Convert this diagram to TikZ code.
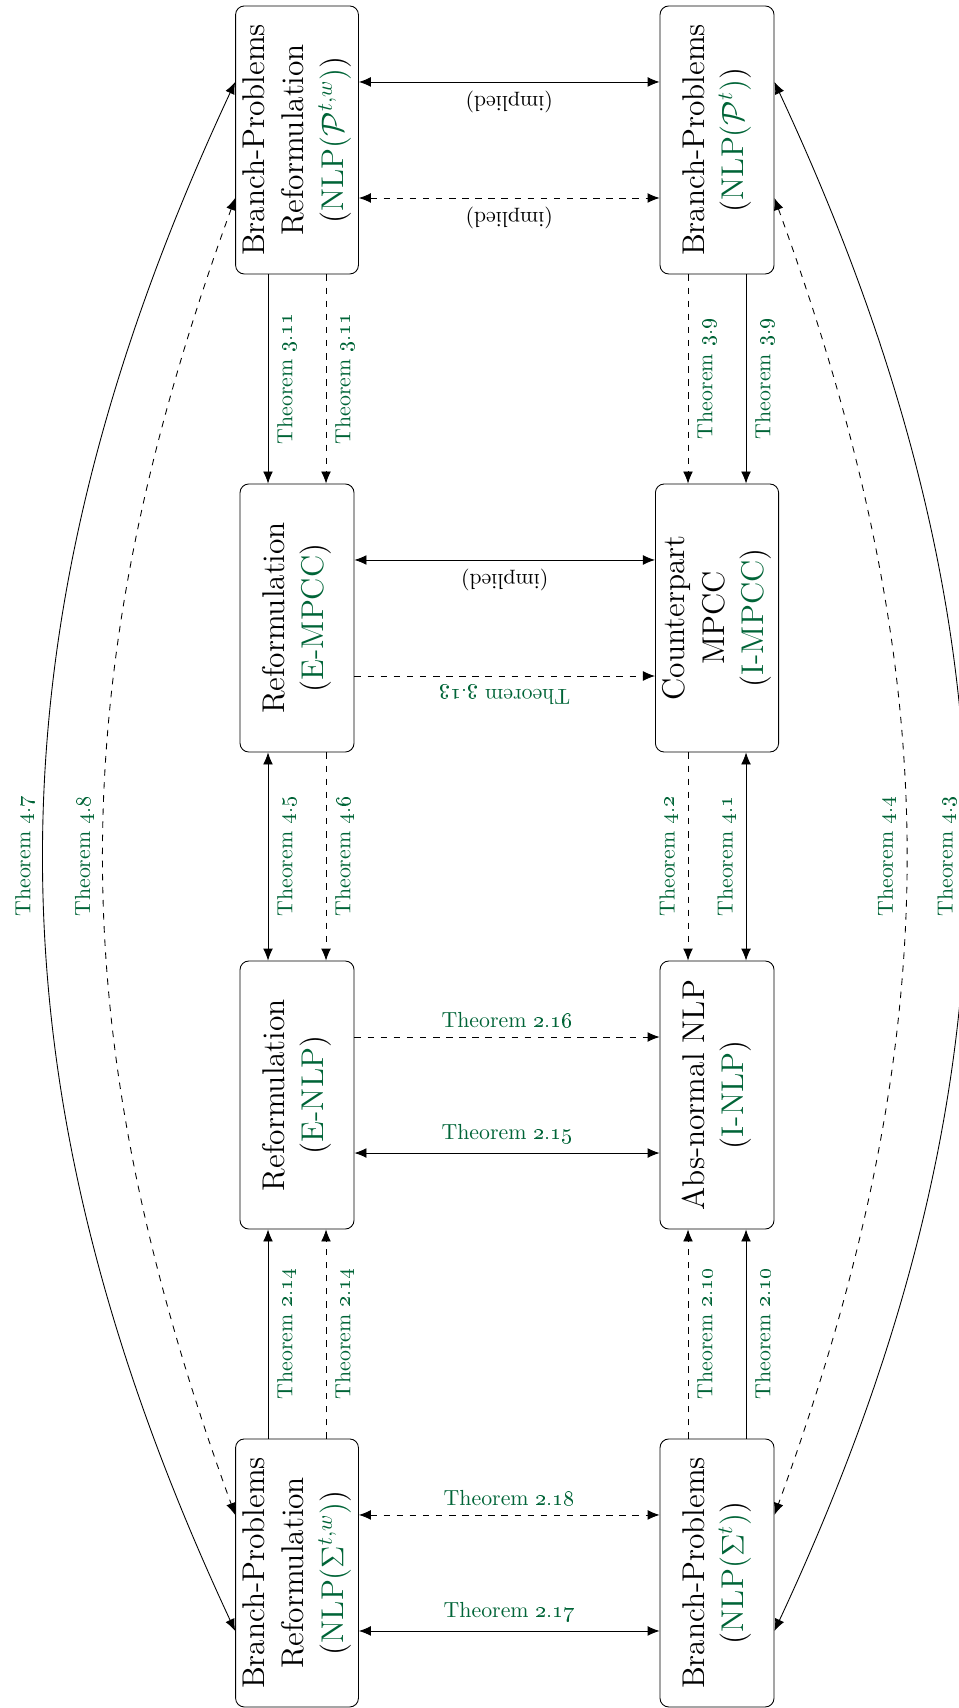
\documentclass[tikz,border=0pt]{standalone}
\usetikzlibrary{arrows.meta}
\definecolor{thmgreen}{RGB}{0,100,55}
\newcommand{\thmlbl}[1]{Theorem \oldstylenums{#1}}
\newcommand{\gr}[1]{\textcolor{thmgreen}{#1}}
\tikzset{
  probbox/.style={draw,rounded corners,rotate=90,align=center,font=\Large,minimum width=4.315cm,minimum height=1.835cm},
  lbl/.style={font=\normalsize,text=thmgreen,inner sep=4pt},
  blk/.style={font=\normalsize,inner sep=4pt},
}
\begin{document}
\begin{tikzpicture}[>={Latex[length=5.5pt,width=4.5pt]}]
\useasboundingbox (0,0) rectangle (15.424,27.499);
% problems, explicit column on the left, implicit on the right
\node[probbox] (branchPtw) at (4.782,25.245) {Branch-Problems\\Reformulation\\(\gr{NLP($\mathcal{P}^{t,w}$)})};
\node[probbox] (empcc) at (4.782,17.549) {Reformulation\\(\gr{E-MPCC})};
\node[probbox] (enlp) at (4.782,9.869) {Reformulation\\(\gr{E-NLP})};
\node[probbox] (branchStw) at (4.782,2.174) {Branch-Problems\\Reformulation\\(\gr{NLP($\Sigma^{t,w}$)})};
\node[probbox] (branchPt) at (11.544,25.245) {Branch-Problems\\(\gr{NLP($\mathcal{P}^{t}$)})};
\node[probbox] (impcc) at (11.544,17.549) {Counterpart\\MPCC\\(\gr{I-MPCC})};
\node[probbox] (inlp) at (11.544,9.869) {Abs-normal NLP\\(\gr{I-NLP})};
\node[probbox] (branchSt) at (11.544,2.174) {Branch-Problems\\(\gr{NLP($\Sigma^{t}$)})};

% across
\draw[<->] ([yshift=0.934cm]branchPtw.south)--([yshift=0.934cm]branchPt.north) node[blk,midway,rotate=180,above]{(implied)};
\draw[<->,dashed] ([yshift=-0.934cm]branchPtw.south)--([yshift=-0.934cm]branchPt.north) node[blk,midway,rotate=180,above]{(implied)};
\draw[<->] ([yshift=0.934cm]empcc.south)--([yshift=0.934cm]impcc.north) node[blk,midway,rotate=180,above]{(implied)};
\draw[->,dashed] ([yshift=-0.934cm]empcc.south)--([yshift=-0.934cm]impcc.north) node[lbl,midway,rotate=180,above]{\thmlbl{3.13}};
\draw[->,dashed] ([yshift=0.934cm]enlp.south)--([yshift=0.934cm]inlp.north) node[lbl,midway,above]{\thmlbl{2.16}};
\draw[<->] ([yshift=-0.934cm]enlp.south)--([yshift=-0.934cm]inlp.north) node[lbl,midway,above]{\thmlbl{2.15}};
\draw[<->,dashed] ([yshift=0.934cm]branchStw.south)--([yshift=0.934cm]branchSt.north) node[lbl,midway,above]{\thmlbl{2.18}};
\draw[<->] ([yshift=-0.934cm]branchStw.south)--([yshift=-0.934cm]branchSt.north) node[lbl,midway,above]{\thmlbl{2.17}};

% down the columns
\draw[->] ([xshift=-0.467cm]branchPtw.west)--([xshift=-0.467cm]empcc.east) node[lbl,midway,rotate=90,below]{\thmlbl{3.11}};
\draw[->,dashed] ([xshift=0.467cm]branchPtw.west)--([xshift=0.467cm]empcc.east) node[lbl,midway,rotate=90,below]{\thmlbl{3.11}};
\draw[->,dashed] ([xshift=-0.467cm]branchPt.west)--([xshift=-0.467cm]impcc.east) node[lbl,midway,rotate=90,below]{\thmlbl{3.9}};
\draw[->] ([xshift=0.467cm]branchPt.west)--([xshift=0.467cm]impcc.east) node[lbl,midway,rotate=90,below]{\thmlbl{3.9}};
\draw[<->] ([xshift=-0.467cm]empcc.west)--([xshift=-0.467cm]enlp.east) node[lbl,midway,rotate=90,below]{\thmlbl{4.5}};
\draw[->,dashed] ([xshift=0.467cm]empcc.west)--([xshift=0.467cm]enlp.east) node[lbl,midway,rotate=90,below]{\thmlbl{4.6}};
\draw[->,dashed] ([xshift=-0.467cm]impcc.west)--([xshift=-0.467cm]inlp.east) node[lbl,midway,rotate=90,above]{\thmlbl{4.2}};
\draw[<->] ([xshift=0.467cm]impcc.west)--([xshift=0.467cm]inlp.east) node[lbl,midway,rotate=90,above]{\thmlbl{4.1}};
\draw[->] ([xshift=-0.467cm]branchStw.east)--([xshift=-0.467cm]enlp.west) node[lbl,midway,rotate=90,below]{\thmlbl{2.14}};
\draw[->,dashed] ([xshift=0.467cm]branchStw.east)--([xshift=0.467cm]enlp.west) node[lbl,midway,rotate=90,below]{\thmlbl{2.14}};
\draw[->,dashed] ([xshift=-0.467cm]branchSt.east)--([xshift=-0.467cm]inlp.west) node[lbl,midway,rotate=90,below]{\thmlbl{2.10}};
\draw[->] ([xshift=0.467cm]branchSt.east)--([xshift=0.467cm]inlp.west) node[lbl,midway,rotate=90,below]{\thmlbl{2.10}};

% outer arcs
\draw[<->] ([yshift=0.934cm]branchPtw.north) to[bend right=25] node[lbl,midway,rotate=90,above]{\thmlbl{4.7}} ([yshift=-0.934cm]branchStw.north);
\draw[<->,dashed] ([yshift=-0.934cm]branchPtw.north) to[bend right=20] node[lbl,midway,rotate=90,above]{\thmlbl{4.8}} ([yshift=0.934cm]branchStw.north);
\draw[<->,dashed] ([yshift=-0.934cm]branchPt.south) to[bend left=20] node[lbl,midway,rotate=90,above]{\thmlbl{4.4}} ([yshift=0.934cm]branchSt.south);
\draw[<->] ([yshift=0.934cm]branchPt.south) to[bend left=25] node[lbl,midway,rotate=90,above]{\thmlbl{4.3}} ([yshift=-0.934cm]branchSt.south);
\end{tikzpicture}
\end{document}
